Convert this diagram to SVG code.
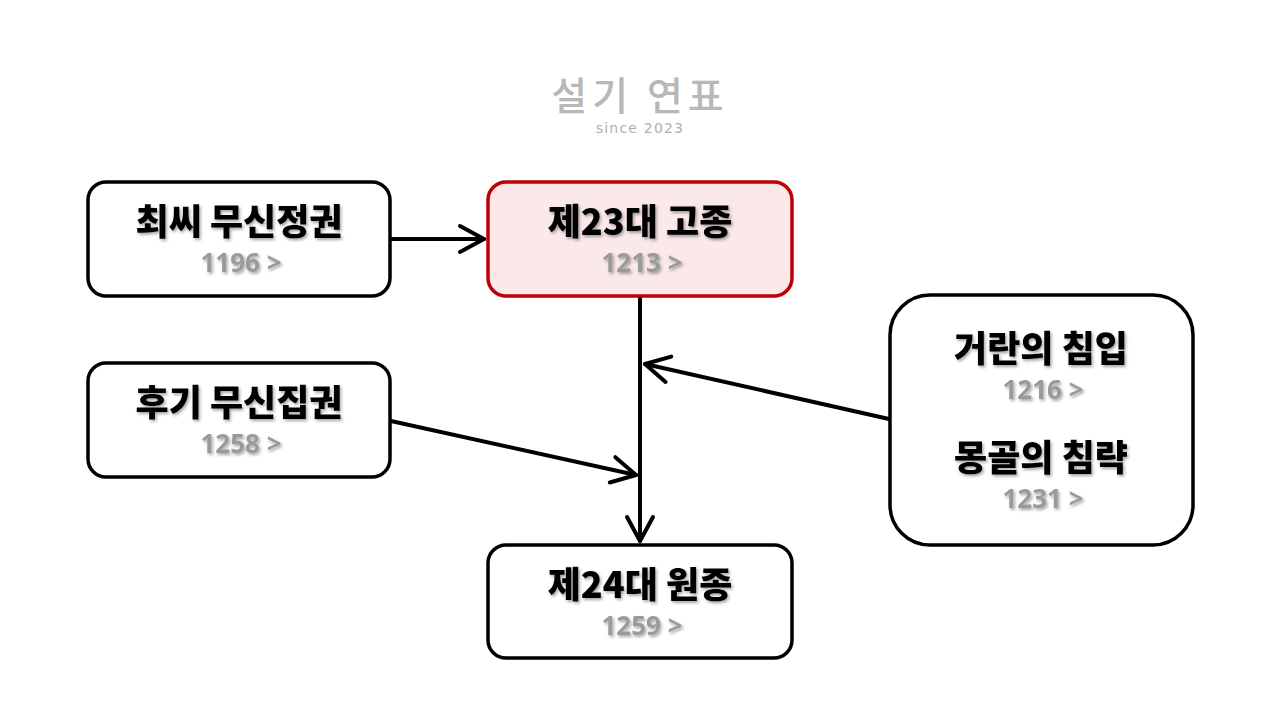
<svg xmlns="http://www.w3.org/2000/svg" width="1280" height="720" viewBox="0 0 1280 720">
<defs>
<filter id="sh" x="-10%" y="-30%" width="120%" height="160%">
<feDropShadow dx="1.5" dy="2" stdDeviation="1.5" flood-color="#000" flood-opacity="0.35"/>
</filter>
<marker id="arr" markerUnits="userSpaceOnUse" markerWidth="40" markerHeight="40" viewBox="-30 -20 40 40" refX="0" refY="0" orient="auto">
<path d="M-24,-13 L0,0 L-24,13" fill="none" stroke="#000" stroke-width="4" stroke-linecap="round" stroke-linejoin="round"/>
</marker>
</defs>
<style>
.box{fill:#fff;stroke:#000;stroke-width:3.5}
.t{font-family:"Noto Sans CJK KR","Noto Sans",sans-serif;font-weight:900;font-size:36px;fill:#000;text-anchor:middle}
.s{font-family:"Noto Sans","Noto Sans CJK KR",sans-serif;font-weight:700;font-size:26px;fill:#9a9a9a;text-anchor:middle}
.c{fill:none;stroke:#000;stroke-width:4;stroke-linecap:round}
</style>
<rect width="1280" height="720" fill="#fff"/>
<g id="logo">
<text x="640" y="110" text-anchor="middle" font-family="Noto Sans CJK KR, sans-serif" font-size="39" font-weight="500" fill="#b8b8b8" letter-spacing="5">설기 연표</text>
<text x="640" y="133" text-anchor="middle" font-family="DejaVu Sans, sans-serif" font-size="14" fill="#b0b0b0" letter-spacing="1.2">since 2023</text>
</g>
<g id="connectors">
<line class="c" x1="391" y1="239" x2="484" y2="239" marker-end="url(#arr)"/>
<line class="c" x1="640" y1="297" x2="640" y2="541" marker-end="url(#arr)"/>
<line class="c" x1="889" y1="419" x2="645" y2="364" marker-end="url(#arr)"/>
<line class="c" x1="391" y1="421" x2="636" y2="475" marker-end="url(#arr)"/>
</g>
<g id="n1">
<rect class="box" x="88" y="182" width="302" height="114" rx="18"/>
<text class="t" x="239" y="235" filter="url(#sh)">최씨 무신정권</text>
<text class="s" x="241" y="272" filter="url(#sh)">1196 &gt;</text>
</g>
<g id="n2">
<rect class="box" x="488" y="182" width="304" height="114" rx="18" style="fill:#fbe9ea;stroke:#c00000"/>
<text class="t" x="640" y="235" filter="url(#sh)">제23대 고종</text>
<text class="s" x="642" y="272" filter="url(#sh)">1213 &gt;</text>
</g>
<g id="n3">
<rect class="box" x="88" y="363" width="302" height="114" rx="18"/>
<text class="t" x="239" y="416" filter="url(#sh)">후기 무신집권</text>
<text class="s" x="241" y="453" filter="url(#sh)">1258 &gt;</text>
</g>
<g id="n4">
<rect class="box" x="488" y="545" width="304" height="113" rx="18"/>
<text class="t" x="640" y="598" filter="url(#sh)">제24대 원종</text>
<text class="s" x="642" y="635" filter="url(#sh)">1259 &gt;</text>
</g>
<g id="n5">
<rect class="box" x="890" y="295" width="303" height="250" rx="40"/>
<text class="t" x="1041" y="362" filter="url(#sh)">거란의 침입</text>
<text class="s" x="1043" y="399" filter="url(#sh)">1216 &gt;</text>
<text class="t" x="1041" y="471" filter="url(#sh)">몽골의 침략</text>
<text class="s" x="1043" y="508" filter="url(#sh)">1231 &gt;</text>
</g>
</svg>
